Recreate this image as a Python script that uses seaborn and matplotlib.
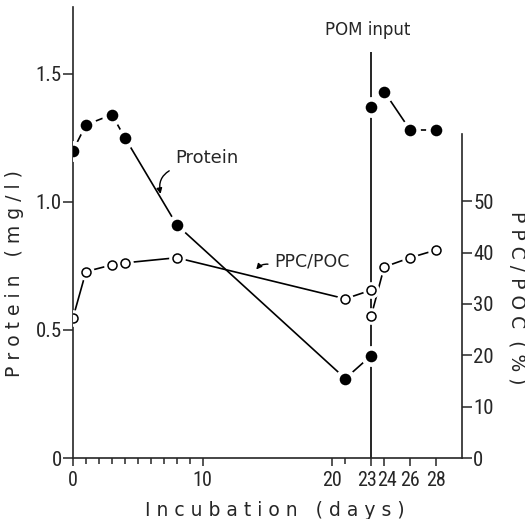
import matplotlib
matplotlib.use("Agg")
import matplotlib.pyplot as plt
import matplotlib.transforms as mtransforms
import seaborn as sns

# incubation days / values
protein_days_pre = [0, 1, 3, 4, 8, 21, 23]
protein_pre = [1.20, 1.30, 1.34, 1.25, 0.91, 0.31, 0.40]
protein_days_post = [23, 24, 26, 28]
protein_post = [1.37, 1.43, 1.28, 1.28]

ppc_days_pre = [0, 1, 3, 4, 8, 21, 23]
ppc_pre = [27.3, 36.3, 37.6, 38.0, 39.0, 31.0, 32.7]
ppc_days_post = [23, 24, 26, 28]
ppc_post = [27.7, 37.2, 39.0, 40.5]

xtick_pos = [0, 10, 20, 23, 24, 26, 28]
xtick_labels = ['0', '10', '20', '23', '24', '26', '28']
left_ticks = [0, 0.5, 1.0, 1.5]
left_tick_labels = ['0', '0.5', '1.0', '1.5']
right_ticks = [0, 10, 20, 30, 40, 50]
pom_day = 23

sns.set_style("ticks")
plt.rcParams['font.family'] = ['DejaVu Sans']
font_size = 14
narrow = ['Roboto Condensed', 'DejaVu Sans']

fig = plt.figure(figsize=(5.25, 5.19), dpi=100)
ax = fig.add_axes([73 / 525, 1 - 458 / 519, 389 / 525, 451 / 519])
ax2 = ax.twinx()

ax.set_xlim(0, 30)
ax.set_ylim(0, 1.76)
ax2.set_ylim(0, 1.76 * 49.9)

# POM input marker line
ax.vlines(pom_day, 0, 1.586, color='black', lw=1.2, zorder=1)
ax.text(pom_day - 0.3, 1.67, 'POM input', ha='center', va='center', fontsize=12)

# protein (filled), lines stop short of the dots
for dx, dy in [(protein_days_pre, protein_pre), (protein_days_post, protein_post)]:
    sns.lineplot(x=dx, y=dy, ax=ax, color='black', lw=1.2, estimator=None, sort=False, zorder=2)
    ax.plot(dx, dy, 'o', ms=15, color='white', mew=0, zorder=3)
    sns.scatterplot(x=dx, y=dy, ax=ax, color='black', s=70, linewidth=0, zorder=4)

# PPC/POC (open)
for dx, dy in [(ppc_days_pre, ppc_pre), (ppc_days_post, ppc_post)]:
    sns.lineplot(x=dx, y=dy, ax=ax2, color='black', lw=1.2, estimator=None, sort=False, zorder=2)
    ax2.plot(dx, dy, 'o', ms=12, color='white', mew=0, zorder=3)
    sns.scatterplot(x=dx, y=dy, ax=ax2, facecolor='white', edgecolor='black', s=42, linewidth=1.1, zorder=4)

# labels on the curves
ax.annotate('Protein', xy=(6.8, 1.02), xytext=(10.3, 1.17), fontsize=13, ha='center', va='center',
            arrowprops=dict(arrowstyle='-|>', connectionstyle='arc3,rad=0.5', color='black', lw=1,
                            relpos=(0.05, 0), mutation_scale=8))
ax.annotate('PPC/POC', xy=(14.0, 0.727), xytext=(15.5, 0.765), fontsize=12.5, ha='left', va='center',
            arrowprops=dict(arrowstyle='-|>', connectionstyle='arc3,rad=0.4', color='black', lw=1,
                            relpos=(0, 0.3), mutation_scale=8))

# axes styling
for a in (ax, ax2):
    a.spines['top'].set_visible(False)
ax.spines['right'].set_visible(False)
ax2.spines['left'].set_visible(False)
ax2.spines['bottom'].set_visible(False)
ax2.spines['right'].set_bounds(0, 63)
for sp in list(ax.spines.values()) + list(ax2.spines.values()):
    sp.set_linewidth(1.2)

ax.set_xticks(xtick_pos)
ax.set_xticklabels(xtick_labels, family=narrow)
ax.set_xticks([1, 2, 3, 4, 5, 6, 7, 8, 9, 21], minor=True)
ax.tick_params(axis='x', which='major', length=6, width=1.1, pad=3, labelsize=font_size + 0.5)
ax.tick_params(axis='x', which='minor', length=4, width=1.1)
ax.set_yticks(left_ticks)
ax.set_yticklabels(left_tick_labels, family=narrow)
ax.tick_params(axis='y', length=7, width=1.1, pad=1, labelsize=font_size + 1)
ax2.set_yticks(right_ticks)
ax2.set_yticklabels([str(t) for t in right_ticks], family=narrow)
ax2.tick_params(axis='y', length=7, width=1.1, pad=1, labelsize=font_size + 1)

# crowded labels at 23 / 24: nudge apart a little
nudge = {'23': -4, '24': 3}
for lbl in ax.get_xticklabels():
    if lbl.get_text() in nudge:
        lbl.set_transform(lbl.get_transform() +
                          mtransforms.ScaledTranslation(nudge[lbl.get_text()] / 100, 0, fig.dpi_scale_trans))

ax.set_xlabel('I n c u b a t i o n   ( d a y s )', fontsize=font_size - 0.5)
ax.set_ylabel('P r o t e i n   ( m g / l )', fontsize=font_size - 0.5)
ax2.set_ylabel('P P C / P O C  ( % )', fontsize=font_size - 0.5, rotation=270)
ax2.yaxis.set_label_coords(1.165, 0.355)
ax.yaxis.set_label_coords(-0.125, 0.41)
ax.xaxis.set_label_coords(0.52, -0.095)

plt.savefig('out.png', dpi=100)
